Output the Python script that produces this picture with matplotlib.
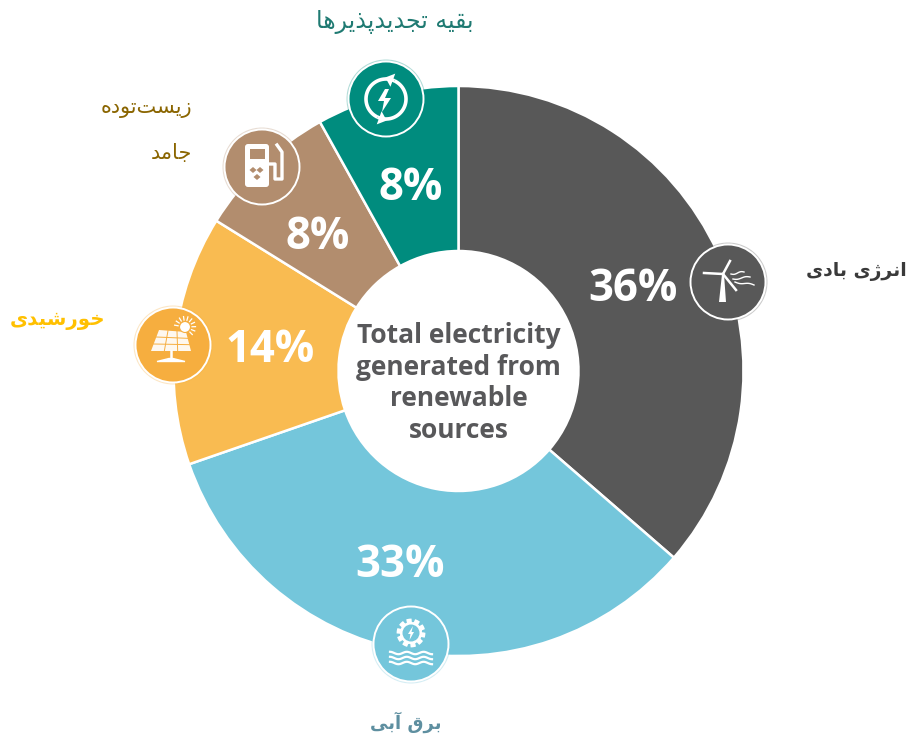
import numpy as np
import matplotlib
matplotlib.use("Agg")
from matplotlib import pyplot as plt
from matplotlib.patches import Circle, Polygon, FancyBboxPatch

# share of renewable generation, clockwise from the top
sources = ["wind", "hydro", "solar", "biomass", "other"]
shares = [36, 33, 14, 8, 8]
source_names = ["انرژی بادی", "برق آبی", "خورشیدی", "زیست\u200cتوده\nجامد", "بقیه تجدیدپذیرها"]
centre_lines = ["Total electricity", "generated from", "renewable", "sources"]

colors = ["#585858", "#74C6DB", "#F9BB51", "#B28D6E", "#008C7E"]
icon_colors = ["#585858", "#74C6DB", "#F6AE3F", "#B28D6E", "#008C7E"]
name_colors = ["#3A3A3A", "#5E8FA0", "#FFC000", "#8A6500", "#1F7A72"]
name_bold = [True, True, True, False, False]

# Presentation forms: isolated, final, initial, medial
FORMS = {
    "ا": "\uFE8D\uFE8E", "آ": "\uFE81\uFE82",
    "ب": "\uFE8F\uFE90\uFE91\uFE92", "پ": "\uFB56\uFB57\uFB58\uFB59",
    "ت": "\uFE95\uFE96\uFE97\uFE98", "ج": "\uFE9D\uFE9E\uFE9F\uFEA0",
    "خ": "\uFEA5\uFEA6\uFEA7\uFEA8", "د": "\uFEA9\uFEAA", "ذ": "\uFEAB\uFEAC",
    "ر": "\uFEAD\uFEAE", "ز": "\uFEAF\uFEB0", "ژ": "\uFB8A\uFB8B",
    "س": "\uFEB1\uFEB2\uFEB3\uFEB4", "ش": "\uFEB5\uFEB6\uFEB7\uFEB8",
    "ق": "\uFED5\uFED6\uFED7\uFED8", "م": "\uFEE1\uFEE2\uFEE3\uFEE4",
    "ن": "\uFEE5\uFEE6\uFEE7\uFEE8", "و": "\uFEED\uFEEE",
    "ه": "\uFEE9\uFEEA\uFEEB\uFEEC", "ی": "\uFBFC\uFBFD\uFBFE\uFBFF",
}


def shape(word):
    # matplotlib has no shaping of its own, so join the letters and lay them out right to left
    out = []
    for i, ch in enumerate(word):
        if ch not in FORMS:
            if ch != "\u200c":
                out.append(ch)
            continue
        prev = word[i - 1] if i > 0 else ""
        nxt = word[i + 1] if i + 1 < len(word) else ""
        joins_prev = prev in FORMS and len(FORMS[prev]) == 4
        joins_next = nxt in FORMS and len(FORMS[ch]) == 4
        if joins_prev and joins_next:
            out.append(FORMS[ch][3])
        elif joins_next:
            out.append(FORMS[ch][2])
        elif joins_prev:
            out.append(FORMS[ch][1])
        else:
            out.append(FORMS[ch][0])
    return "".join(reversed(out))


fig = plt.figure(figsize=(9.07, 7.37), dpi=100, facecolor="white")
ax = fig.add_axes([0, 0, 1, 1])

# y runs downward here, so increasing angle goes clockwise on screen
wedges, _ = ax.pie(
    shares,
    colors=colors,
    center=(458.5, 371),
    radius=285,
    startangle=-90,
    counterclock=True,
    wedgeprops=dict(width=165, edgecolor="white", linewidth=1.8),
)
ax.set_xlim(0, 907)
ax.set_ylim(737, 0)
ax.axis("off")

percent_pos = [(633, 284), (400, 560), (270, 345), (318, 232), (411, 183)]
for value, (x, y) in zip(shares, percent_pos):
    ax.text(x, y, "%d%%" % value, color="white", fontsize=31.5, fontweight="bold",
            family="Open Sans", ha="center", va="center_baseline", zorder=6)

for line, y in zip(centre_lines, [335, 367, 398, 430]):
    ax.text(458.5, y, line, color="#58585A", fontsize=19, fontweight="bold",
            family="Open Sans", ha="center", va="center", zorder=6)


def wave(cx, cy, half, amp, n=2.5):
    x = np.linspace(-half, half, 60)
    return cx + x, cy + amp * np.sin(x / half * n * np.pi)


def draw_wind(cx, cy):
    ax.add_patch(Polygon([(cx - 6, cy - 8), (cx - 4, cy - 8), (cx - 2, cy + 20), (cx - 9, cy + 20)],
                         fc="white", ec="none", zorder=7))
    for tx, ty, w in [(2, -21, 1.8), (-24, -9, 1.8), (8, 8, 1.8)]:
        ax.plot([cx - 5, cx + tx], [cy - 8, cy + ty], color="white", lw=w, zorder=7)
    for sx, ex, y0, y1 in [(3, 16, -8, -10), (5, 22, -3, -5), (7, 26, 0, 3)]:
        x = np.linspace(0, 1, 30)
        ax.plot(cx + sx + (ex - sx) * x, cy + y0 + (y1 - y0) * x + 0.8 * np.sin(x * 2 * np.pi),
                color="white", lw=1, zorder=7)


def draw_hydro(cx, cy):
    a = np.linspace(0, 2 * np.pi, 240)
    r = 12 + 1.7 * np.sign(np.sin(10 * a))
    ax.fill(cx + r * np.cos(a), cy - 11 + r * np.sin(a), color="white", zorder=7)
    ax.add_patch(Circle((cx, cy - 11), 8.5, fc="#74C6DB", ec="none", zorder=8))
    ax.add_patch(Polygon([(cx + 2, cy - 18), (cx - 3, cy - 10), (cx - 0.5, cy - 10), (cx - 1.5, cy - 4),
                          (cx + 3, cy - 12), (cx + 0.5, cy - 12)], fc="white", ec="none", zorder=9))
    for dy in [9, 14, 19]:
        xs, ys = wave(cx, cy + dy, 21, 1.2)
        ax.plot(xs, ys, color="white", lw=1.6, zorder=7)


def draw_solar(cx, cy):
    ax.add_patch(Polygon([(cx - 14, cy - 15), (cx + 13, cy - 13), (cx + 18, cy + 6), (cx - 22, cy + 6)],
                         fc="white", ec="none", alpha=0.92, zorder=7))
    for f in [1 / 3, 2 / 3]:
        ax.plot([cx - 14 + 27 * f, cx - 22 + 40 * f], [cy - 15 + 2 * f, cy + 6], color="#F6AE3F", lw=0.7, zorder=8)
    for f in [1 / 3, 2 / 3]:
        ax.plot([cx - 14 - 8 * f, cx + 13 + 5 * f], [cy - 15 + 21 * f, cy - 13 + 19 * f], color="#F6AE3F", lw=0.7, zorder=8)
    ax.plot([cx - 2, cx - 2], [cy + 6, cy + 14], color="white", lw=1.8, zorder=7)
    ax.fill([cx - 16, cx - 4, cx, cx + 12], [cy + 16.5, cy + 13.5, cy + 13.5, cy + 16.5], color="white", zorder=7)
    ax.add_patch(Circle((cx + 12, cy - 18), 5.5, fc="white", ec="#F6AE3F", lw=0.8, zorder=9))
    for a in np.radians(np.arange(-170, 50, 24)):
        ax.plot([cx + 12 + 7 * np.cos(a), cx + 12 + 10.5 * np.cos(a)],
                [cy - 18 + 7 * np.sin(a), cy - 18 + 10.5 * np.sin(a)], color="white", lw=0.9, zorder=8)


def draw_pump(cx, cy):
    ax.add_patch(FancyBboxPatch((cx - 17, cy - 23), 24, 43, boxstyle="round,pad=0,rounding_size=3",
                                fc="white", ec="none", zorder=7))
    ax.add_patch(Polygon([(cx - 12, cy - 18), (cx + 3, cy - 18), (cx + 3, cy - 8), (cx - 12, cy - 8)],
                         fc="#B28D6E", ec="none", zorder=8))
    ax.plot([cx + 6, cx + 13, cx + 13, cx + 20, cx + 20, cx + 15],
            [cy - 3, cy - 3, cy + 12, cy + 12, cy - 15, cy - 22], color="white", lw=2.4, zorder=7)
    for sx, sy in [(-9, 3), (-2, 3), (-5, 10)]:
        ax.add_patch(Polygon([(cx + sx - 3.5, cy + sy), (cx + sx, cy + sy - 3), (cx + sx + 3.5, cy + sy),
                              (cx + sx, cy + sy + 3)], fc="#B28D6E", ec="none", zorder=8))


def draw_cycle(cx, cy):
    a1 = np.radians(np.linspace(-60, 110, 50))
    a2 = np.radians(np.linspace(120, 290, 50))
    for a in [a1, a2]:
        ax.plot(cx + 20 * np.cos(a), cy + 20 * np.sin(a), color="white", lw=2.6, zorder=7)
    for a in [a1[-1], a2[-1]]:
        px, py = cx + 20 * np.cos(a), cy + 20 * np.sin(a)
        tx, ty = np.sin(a), -np.cos(a)
        ax.add_patch(Polygon([(px + 7 * np.cos(a), py + 7 * np.sin(a)),
                              (px - 7 * np.cos(a), py - 7 * np.sin(a)),
                              (px + 8 * tx, py + 8 * ty)], fc="white", ec="none", zorder=7))
    ax.add_patch(Polygon([(cx - 1, cy - 10), (cx - 8, cy + 2), (cx - 2, cy + 2), (cx - 4, cy + 13),
                          (cx + 5, cy - 1), (cx - 1, cy - 1), (cx + 3, cy - 10)], fc="white", ec="none", zorder=7))


icon_pos = [(728, 282), (411, 644), (173, 345), (262, 167), (386, 99)]
icon_draw = [draw_wind, draw_hydro, draw_solar, draw_pump, draw_cycle]
for (x, y), col, draw in zip(icon_pos, icon_colors, icon_draw):
    # thin white ring around a disc of the slice colour
    ax.add_patch(Circle((x, y), 39.5, fc=col, ec="none", alpha=0.3, zorder=4))
    ax.add_patch(Circle((x, y), 37.5, fc=col, ec="white", lw=1.4, zorder=5))
    draw(x, y)

# outer names of the sources
name_pos = [(856.5, 271), (406, 722), (58, 320), (146, 130), (395, 22)]
name_sizes = [13.5, 13, 14.2, 15, 17]
for name, (x, y), col, bold, size in zip(source_names, name_pos, name_colors, name_bold, name_sizes):
    lines = [shape(part) for part in name.split("\n")]
    if len(lines) == 1:
        ax.text(x, y, lines[0], color=col, fontsize=size, family="DejaVu Sans",
                fontweight="bold" if bold else "normal", ha="center", va="center")
    else:
        ax.text(x + 46, y - 22, lines[0], color=col, fontsize=size, family="DejaVu Sans",
                ha="right", va="center")
        ax.text(x + 46, y + 23, lines[1], color=col, fontsize=size, family="DejaVu Sans",
                ha="right", va="center")

fig.savefig("out.png", dpi=100, facecolor="white")
